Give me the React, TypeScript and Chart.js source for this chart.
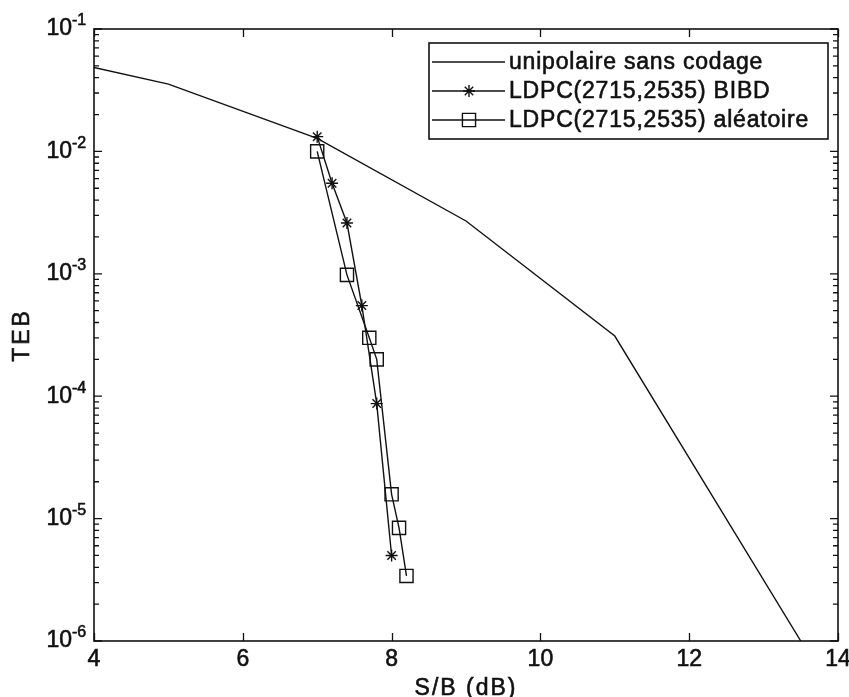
import React, { useEffect, useRef } from "react";
import { Chart, registerables } from "chart.js";

Chart.register(...registerables);

// ---- Data ----
const snrUncoded = [4, 5, 7, 9, 11, 13.5];
const tebUncoded = [0.0485, 0.0355, 0.0128, 0.0027, 0.00031, 0.000001];

const snrBibd = [7, 7.2, 7.4, 7.6, 7.8, 8.0];
const tebBibd = [0.0132, 0.0055, 0.0026, 0.00055, 0.000087, 0.000005];

const snrRandom = [7, 7.4, 7.7, 7.8, 8.0, 8.1, 8.2];
const tebRandom = [0.01, 0.00098, 0.0003, 0.0002, 0.0000158, 0.0000084, 0.0000034];

const xTicks = [4, 6, 8, 10, 12, 14];
const yExponents = [-1, -2, -3, -4, -5, -6];

const seriesLabels = [
  "unipolaire sans codage",
  "LDPC(2715,2535) BIBD",
  "LDPC(2715,2535) aléatoire",
];
const xTitle = "S/B (dB)";
const yTitle = "TEB";

const FONT = "'Liberation Sans', Arial, Helvetica, sans-serif";

function toPoints(xs: number[], ys: number[]) {
  return xs.map((x, i) => ({ x, y: ys[i] }));
}

function heavyText(ctx: CanvasRenderingContext2D, t: string, x: number, y: number) {
  ctx.fillText(t, x, y);
  ctx.lineWidth = 0.6;
  ctx.strokeText(t, x, y);
}

function drawMarker(ctx: CanvasRenderingContext2D, style: string, x: number, y: number, r: number) {
  ctx.beginPath();
  if (style === "star") {
    ctx.moveTo(x - r, y);
    ctx.lineTo(x + r, y);
    ctx.moveTo(x, y - r);
    ctx.lineTo(x, y + r);
    const d = r * Math.SQRT1_2;
    ctx.moveTo(x - d, y - d);
    ctx.lineTo(x + d, y + d);
    ctx.moveTo(x - d, y + d);
    ctx.lineTo(x + d, y - d);
  } else if (style === "rect") {
    const s = r * Math.SQRT1_2;
    ctx.rect(x - s, y - s, 2 * s, 2 * s);
  }
  ctx.stroke();
}

const matlabAxes = {
  id: "matlabAxes",
  afterDraw(chart: any) {
    const ctx: CanvasRenderingContext2D = chart.ctx;
    const { left, right, top, bottom } = chart.chartArea;
    const xs = chart.scales.x;
    const ys = chart.scales.y;
    ctx.save();
    ctx.strokeStyle = "#111";
    ctx.fillStyle = "#111";
    ctx.lineWidth = 1.6;
    // box
    ctx.strokeRect(left, top, right - left, bottom - top);

    // x ticks
    ctx.lineWidth = 1.3;
    ctx.beginPath();
    xTicks.forEach((v) => {
      const px = Math.round(xs.getPixelForValue(v)) + 0.5;
      ctx.moveTo(px, bottom);
      ctx.lineTo(px, bottom - 8);
      ctx.moveTo(px, top);
      ctx.lineTo(px, top + 8);
    });
    // y ticks (major + minor)
    yExponents.forEach((e) => {
      const py = ys.getPixelForValue(Math.pow(10, e));
      ctx.moveTo(left, py);
      ctx.lineTo(left + 8, py);
      ctx.moveTo(right, py);
      ctx.lineTo(right - 8, py);
      if (e > -6) {
        for (let m = 2; m <= 9; m++) {
          const pm = ys.getPixelForValue(m * Math.pow(10, e - 1));
          ctx.moveTo(left, pm);
          ctx.lineTo(left + 5, pm);
          ctx.moveTo(right, pm);
          ctx.lineTo(right - 5, pm);
        }
      }
    });
    ctx.stroke();

    // x tick labels
    ctx.font = `23px ${FONT}`;
    ctx.textAlign = "center";
    ctx.textBaseline = "middle";
    xTicks.forEach((v) => {
      heavyText(ctx, String(v), xs.getPixelForValue(v), bottom + 19);
    });

    // y tick labels 10^e
    yExponents.forEach((e) => {
      const py = ys.getPixelForValue(Math.pow(10, e));
      ctx.font = `23px ${FONT}`;
      ctx.textAlign = "right";
      ctx.textBaseline = "middle";
      heavyText(ctx, "10", left - 22, py);
      ctx.font = `16px ${FONT}`;
      ctx.textAlign = "left";
      heavyText(ctx, String(e), left - 22, py - 8);
    });

    // axis titles
    (ctx as any).letterSpacing = "2px";
    ctx.font = `23px ${FONT}`;
    ctx.textAlign = "center";
    ctx.textBaseline = "middle";
    heavyText(ctx, xTitle, (left + right) / 2, bottom + 48);
    ctx.save();
    ctx.translate(23, (top + bottom) / 2);
    ctx.rotate(-Math.PI / 2);
    (ctx as any).letterSpacing = "3px";
    heavyText(ctx, yTitle, 0, 0);
    ctx.restore();

    // legend
    const bx = 429, by = 43, bw = 399, bh = 96;
    ctx.fillStyle = "#fff";
    ctx.fillRect(bx, by, bw, bh);
    ctx.strokeStyle = "#111";
    ctx.lineWidth = 1.6;
    ctx.strokeRect(bx, by, bw, bh);
    (ctx as any).letterSpacing = "0.8px";
    ctx.font = `23px ${FONT}`;
    ctx.textAlign = "left";
    ctx.textBaseline = "middle";
    chart.data.datasets.forEach((ds: any, i: number) => {
      const ry = by + 19 + i * 29;
      ctx.strokeStyle = "#111";
      ctx.lineWidth = 1.4;
      ctx.beginPath();
      ctx.moveTo(bx + 3, ry);
      ctx.lineTo(bx + 76, ry);
      ctx.stroke();
      if (ds.pointRadius > 0) {
        drawMarker(ctx, ds.pointStyle, bx + 40, ry, ds.pointRadius);
      }
      ctx.fillStyle = "#111";
      heavyText(ctx, ds.label, bx + 80, ry + 1);
    });
    ctx.restore();
  },
};

export default function App() {
  const ref = useRef<HTMLCanvasElement | null>(null);
  useEffect(() => {
    if (!ref.current) return;
    const chart = new Chart(ref.current, {
      type: "line",
      data: {
        datasets: [
          {
            label: seriesLabels[0],
            data: toPoints(snrUncoded, tebUncoded),
            borderColor: "#111",
            borderWidth: 1.4,
            pointRadius: 0,
            tension: 0,
            fill: false,
          },
          {
            label: seriesLabels[1],
            data: toPoints(snrBibd, tebBibd),
            borderColor: "#111",
            borderWidth: 1.4,
            pointStyle: "star",
            pointRadius: 6,
            pointBorderColor: "#111",
            pointBorderWidth: 1.4,
            pointBackgroundColor: "#111",
            tension: 0,
            fill: false,
          },
          {
            label: seriesLabels[2],
            data: toPoints(snrRandom, tebRandom),
            borderColor: "#111",
            borderWidth: 1.4,
            pointStyle: "rect",
            pointRadius: 9.3,
            pointBorderColor: "#111",
            pointBorderWidth: 1.4,
            pointBackgroundColor: "rgba(0,0,0,0)",
            tension: 0,
            fill: false,
          },
        ],
      },
      options: {
        animation: false,
        responsive: false,
        maintainAspectRatio: false,
        parsing: true,
        layout: { padding: { left: 94, right: 11, top: 29, bottom: 56 } },
        plugins: { legend: { display: false }, tooltip: { enabled: false } },
        scales: {
          x: { type: "linear", min: 4, max: 14, display: false },
          y: { type: "logarithmic", min: 1e-6, max: 1e-1, display: false },
        },
      },
      plugins: [matlabAxes],
    });
    return () => chart.destroy();
  }, []);
  return (
    <div style={{ position: "absolute", left: 0, top: 0, width: 849, height: 697, background: "#fff" }}>
      <canvas ref={ref} width={849} height={697} style={{ width: 849, height: 697, display: "block" }} />
    </div>
  );
}
